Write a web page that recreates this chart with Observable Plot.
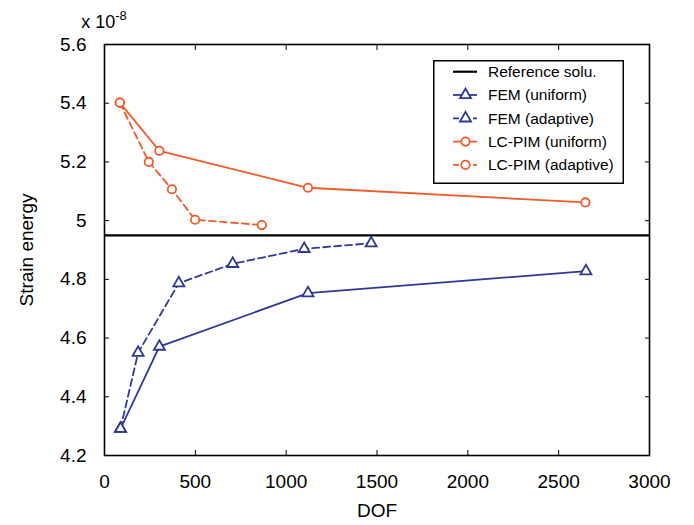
<!DOCTYPE html>
<html>
<head>
<meta charset="utf-8">
<script src="https://cdn.jsdelivr.net/npm/d3@7"></script>
<script src="https://cdn.jsdelivr.net/npm/@observablehq/plot@0.6"></script>
<style>
  body { margin: 0; background: #fff; font-family: "Liberation Sans", Arial, sans-serif; }
  #wrap { position: relative; width: 694px; height: 525px; }
  #legend { position: absolute; left: 433px; top: 60px; }
</style>
</head>
<body>
<div id="wrap"></div>
<script>
const femUniformDOF = [88, 302, 1120, 2650];
const femUniformVal = [4.291, 4.571, 4.753, 4.828];
const femAdaptiveDOF = [88, 185, 409, 706, 1099, 1468];
const femAdaptiveVal = [4.291, 4.550, 4.787, 4.853, 4.904, 4.923];
const pimUniformDOF = [84, 302, 1120, 2647];
const pimUniformVal = [5.402, 5.238, 5.112, 5.062];
const pimAdaptiveDOF = [84, 244, 371, 499, 866];
const pimAdaptiveVal = [5.402, 5.200, 5.107, 5.003, 4.985];
const referenceValue = 4.95;
const xTicks = [0, 500, 1000, 1500, 2000, 2500, 3000];
const yTicks = [4.2, 4.4, 4.6, 4.8, 5, 5.2, 5.4, 5.6];
const seriesNames = ["Reference solu.", "FEM (uniform)", "FEM (adaptive)", "LC-PIM (uniform)", "LC-PIM (adaptive)"];
const xLabel = "DOF", yLabel = "Strain energy";

const FONT = "'Liberation Sans', Arial, sans-serif";
const BLUE = "#2e3896", RED = "#f15a29";
const series = [
  {name: seriesNames[1], dof: femUniformDOF, val: femUniformVal, color: BLUE, symbol: "triangle", dash: null},
  {name: seriesNames[2], dof: femAdaptiveDOF, val: femAdaptiveVal, color: BLUE, symbol: "triangle", dash: "7,4"},
  {name: seriesNames[3], dof: pimUniformDOF, val: pimUniformVal, color: RED, symbol: "circle", dash: null},
  {name: seriesNames[4], dof: pimAdaptiveDOF, val: pimAdaptiveVal, color: RED, symbol: "circle", dash: "7,4"}
];
const marks = [];
marks.push(Plot.ruleY([referenceValue], {stroke: "#000", strokeWidth: 2.2}));
for (const s of series) {
  const data = s.dof.map((d, i) => ({dof: d, val: s.val[i]}));
  marks.push(Plot.line(data, {x: "dof", y: "val", stroke: s.color, strokeWidth: 1.8, strokeDasharray: s.dash}));
  marks.push(Plot.dot(data, {x: "dof", y: "val", stroke: s.color, fill: "white", strokeWidth: 1.8, symbol: s.symbol, r: s.symbol === "circle" ? 4.2 : 4.1}));
}
marks.push(Plot.frame({stroke: "#000", strokeWidth: 1.6}));
marks.push(Plot.axisX(xTicks, {anchor: "bottom", tickSize: 0, tickPadding: 19, tickFormat: d => String(d), fontSize: 19, label: null}));
marks.push(Plot.axisX(xTicks, {anchor: "bottom", tickSize: -5, text: null, label: null}));
marks.push(Plot.axisX(xTicks, {anchor: "top", tickSize: -5, text: null, label: null}));
marks.push(Plot.axisY(yTicks, {anchor: "left", tickSize: 0, tickPadding: 18, tickFormat: d => String(d), fontSize: 19, label: null}));
marks.push(Plot.axisY(yTicks, {anchor: "left", tickSize: -5, text: null, label: null}));
marks.push(Plot.axisY(yTicks, {anchor: "right", tickSize: -5, text: null, label: null}));
marks.push(Plot.text([xLabel], {frameAnchor: "bottom", dy: 55, fontSize: 19, textAnchor: "middle", lineAnchor: "middle", fill: "#000"}));
marks.push(Plot.text([yLabel], {frameAnchor: "left", dx: -78, rotate: -90, fontSize: 19, textAnchor: "middle", lineAnchor: "middle", fill: "#000"}));

const chart = Plot.plot({
  width: 694, height: 525,
  marginLeft: 104, marginRight: 45, marginTop: 44, marginBottom: 70,
  style: {fontFamily: FONT, fontSize: "19px", color: "#000", background: "#fff"},
  x: {domain: [0, 3000]},
  y: {domain: [4.2, 5.6]},
  marks
});
document.getElementById("wrap").appendChild(chart);

// exponent note
const exp = d3.select(chart).append("text").attr("x", 104).attr("y", 28).attr("font-family", FONT).attr("font-size", 18).attr("fill", "#000");
exp.append("tspan").text("x 10");
exp.append("tspan").attr("dy", -8).attr("font-size", 13).text("-8");

// Legend
const lw = 191, lh = 124;
const lg = d3.select("#wrap").append("svg").attr("id", "legend").attr("width", lw).attr("height", lh);
lg.append("rect").attr("x", 0.75).attr("y", 0.75).attr("width", lw - 1.5).attr("height", lh - 1.5).attr("fill", "white").attr("stroke", "#000").attr("stroke-width", 1.5);
const entries = [{name: seriesNames[0], color: "#000", symbol: null, dash: null}, ...series];
entries.forEach((e, i) => {
  const y = 11.7 + i * 23.3;
  const g = lg.append("g");
  g.append("line").attr("x1", 20).attr("x2", 44).attr("y1", y).attr("y2", y).attr("stroke", e.color).attr("stroke-width", e.symbol ? 1.8 : 2.2).attr("stroke-dasharray", e.dash ? "6,4" : null);
  if (e.symbol === "circle") g.append("circle").attr("cx", 32.5).attr("cy", y).attr("r", 4.2).attr("fill", "white").attr("stroke", e.color).attr("stroke-width", 1.8);
  if (e.symbol === "triangle") g.append("path").attr("d", d3.symbol(d3.symbolTriangle, Math.PI * 4.1 * 4.1)()).attr("transform", `translate(32.5,${y})`).attr("fill", "white").attr("stroke", e.color).attr("stroke-width", 1.8);
  g.append("text").attr("x", 55).attr("y", y).attr("dy", "0.35em").attr("font-size", 15.5).attr("font-family", FONT).attr("fill", "#000").text(e.name);
});
</script>
</body>
</html>
